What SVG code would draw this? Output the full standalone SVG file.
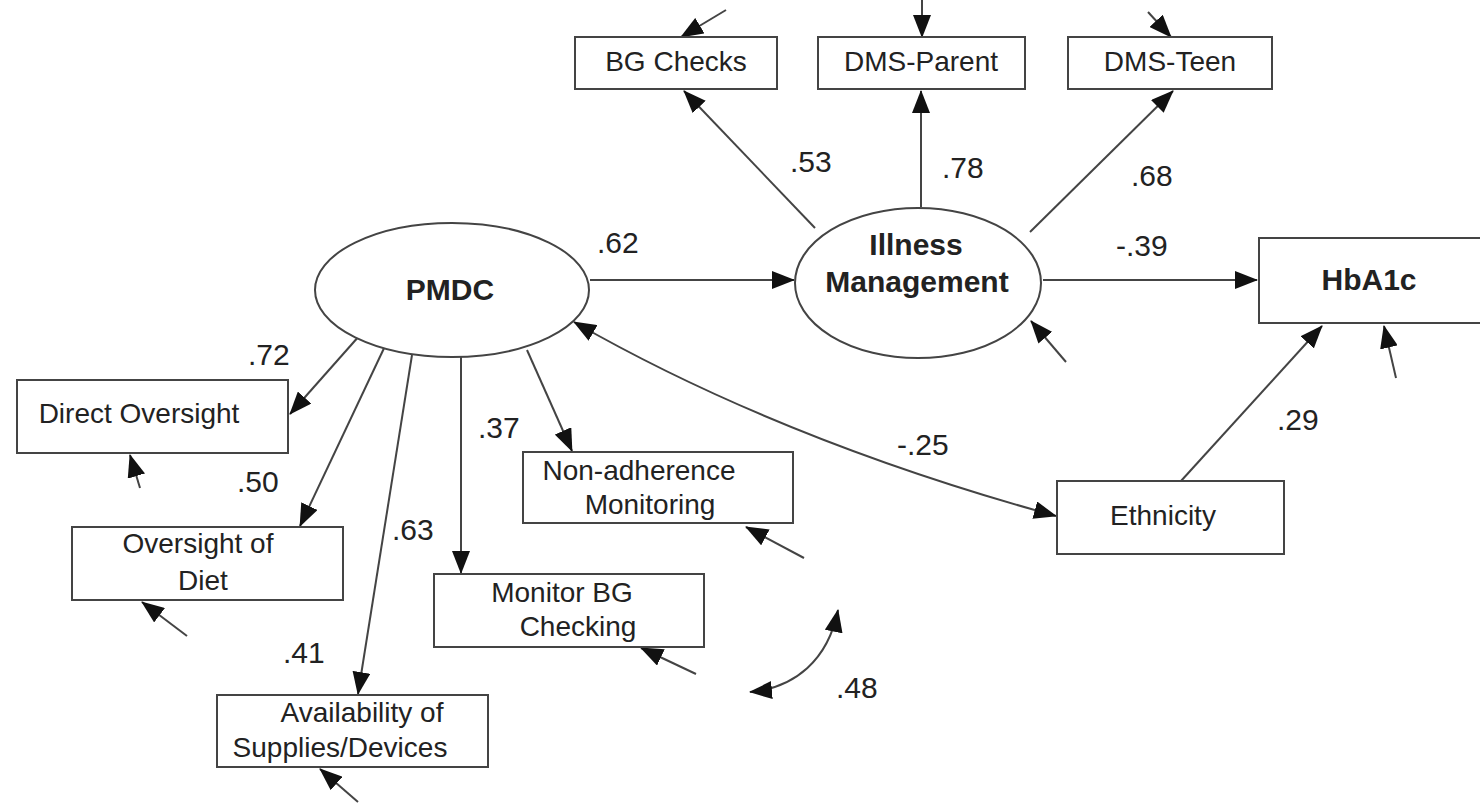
<svg xmlns="http://www.w3.org/2000/svg" width="1480" height="805" viewBox="0 0 1480 805">
<defs>
<marker id="ah" markerUnits="userSpaceOnUse" markerWidth="24" markerHeight="18" refX="22" refY="9" orient="auto-start-reverse" viewBox="0 0 24 18">
<path d="M0,0 L23,9 L0,18 z" fill="#111"/>
</marker>
<style>
.box{fill:#fff;stroke:#444;stroke-width:2}
.ell{fill:#fff;stroke:#444;stroke-width:2}
.t{font-family:"Liberation Sans",Arial,sans-serif;font-size:28px;fill:#222;text-anchor:middle}
.b{font-weight:bold;font-size:30px}
.lbl{font-family:"Liberation Sans",Arial,sans-serif;font-size:30px;fill:#222}
.c{fill:none;stroke:#444;stroke-width:2;marker-end:url(#ah)}
.d{fill:none;stroke:#444;stroke-width:2;marker-end:url(#ah);marker-start:url(#ah)}
</style>
</defs>
<rect width="1480" height="805" fill="#fff"/>
<g id="connectors">
<line class="c" x1="590" y1="280" x2="794" y2="280"/>
<line class="c" x1="1043" y1="280" x2="1257" y2="280"/>
<line class="c" x1="815" y1="228" x2="684" y2="91"/>
<line class="c" x1="921" y1="207" x2="921" y2="91"/>
<line class="c" x1="1030" y1="232" x2="1173" y2="91"/>
<line class="c" x1="726" y1="10" x2="681" y2="37"/>
<line class="c" x1="922" y1="0" x2="922" y2="37"/>
<line class="c" x1="1148" y1="12" x2="1171" y2="37"/>
<line class="c" x1="1066" y1="362" x2="1031" y2="321"/>
<line class="c" x1="1396" y1="378" x2="1384" y2="326"/>
<line class="c" x1="1181" y1="481" x2="1322" y2="326"/>
<path class="d" d="M574,322 Q 780,440 1056,516"/>
<line class="c" x1="360" y1="335" x2="290" y2="414"/>
<line class="c" x1="386" y1="344" x2="300" y2="526"/>
<line class="c" x1="412" y1="355" x2="358" y2="694"/>
<line class="c" x1="461" y1="357" x2="461" y2="573"/>
<line class="c" x1="527" y1="350" x2="572" y2="451"/>
<line class="c" x1="140" y1="488" x2="130" y2="455"/>
<line class="c" x1="187" y1="636" x2="142" y2="602"/>
<line class="c" x1="358" y1="802" x2="320" y2="769"/>
<line class="c" x1="696" y1="674" x2="641" y2="648"/>
<line class="c" x1="804" y1="558" x2="746" y2="527"/>
<path class="d" d="M750,692 C795,688 828,660 838,610"/>
</g>
<g id="labels">
<text class="lbl" x="597" y="253">.62</text>
<text class="lbl" x="1116" y="256">-.39</text>
<text class="lbl" x="790" y="172">.53</text>
<text class="lbl" x="942" y="178">.78</text>
<text class="lbl" x="1131" y="186">.68</text>
<text class="lbl" x="1277" y="430">.29</text>
<text class="lbl" x="897" y="455">-.25</text>
<text class="lbl" x="248" y="365">.72</text>
<text class="lbl" x="237" y="492">.50</text>
<text class="lbl" x="392" y="540">.63</text>
<text class="lbl" x="283" y="663">.41</text>
<text class="lbl" x="478" y="438">.37</text>
<text class="lbl" x="836" y="698">.48</text>
</g>
<g id="n-bgchecks"><rect class="box" x="575" y="37" width="202" height="52"/><text class="t" x="676" y="71">BG Checks</text></g>
<g id="n-dmsparent"><rect class="box" x="818" y="37" width="207" height="52"/><text class="t" x="921" y="71">DMS-Parent</text></g>
<g id="n-dmsteen"><rect class="box" x="1068" y="37" width="204" height="52"/><text class="t" x="1170" y="71">DMS-Teen</text></g>
<g id="n-illness"><ellipse class="ell" cx="918" cy="283" rx="123" ry="75"/><text class="t b" x="916" y="255">Illness</text><text class="t b" x="917" y="292">Management</text></g>
<g id="n-pmdc"><ellipse class="ell" cx="452" cy="290" rx="137" ry="67"/><text class="t b" x="450" y="300">PMDC</text></g>
<g id="n-hba1c"><rect class="box" x="1259" y="238" width="225" height="85"/><text class="t b" x="1369" y="290">HbA1c</text></g>
<g id="n-ethnicity"><rect class="box" x="1057" y="481" width="227" height="73"/><text class="t" x="1163" y="525">Ethnicity</text></g>
<g id="n-direct"><rect class="box" x="17" y="380" width="271" height="73"/><text class="t" x="139" y="423">Direct Oversight</text></g>
<g id="n-diet"><rect class="box" x="72" y="527" width="271" height="73"/><text class="t" x="198" y="553">Oversight of</text><text class="t" x="203" y="590">Diet</text></g>
<g id="n-avail"><rect class="box" x="217" y="695" width="271" height="72"/><text class="t" x="362" y="722">Availability of</text><text class="t" x="340" y="757">Supplies/Devices</text></g>
<g id="n-monitor"><rect class="box" x="434" y="574" width="270" height="73"/><text class="t" x="562" y="602">Monitor BG</text><text class="t" x="578" y="636">Checking</text></g>
<g id="n-nonadh"><rect class="box" x="523" y="452" width="270" height="71"/><text class="t" x="639" y="480">Non-adherence</text><text class="t" x="650" y="514">Monitoring</text></g>
</svg>
